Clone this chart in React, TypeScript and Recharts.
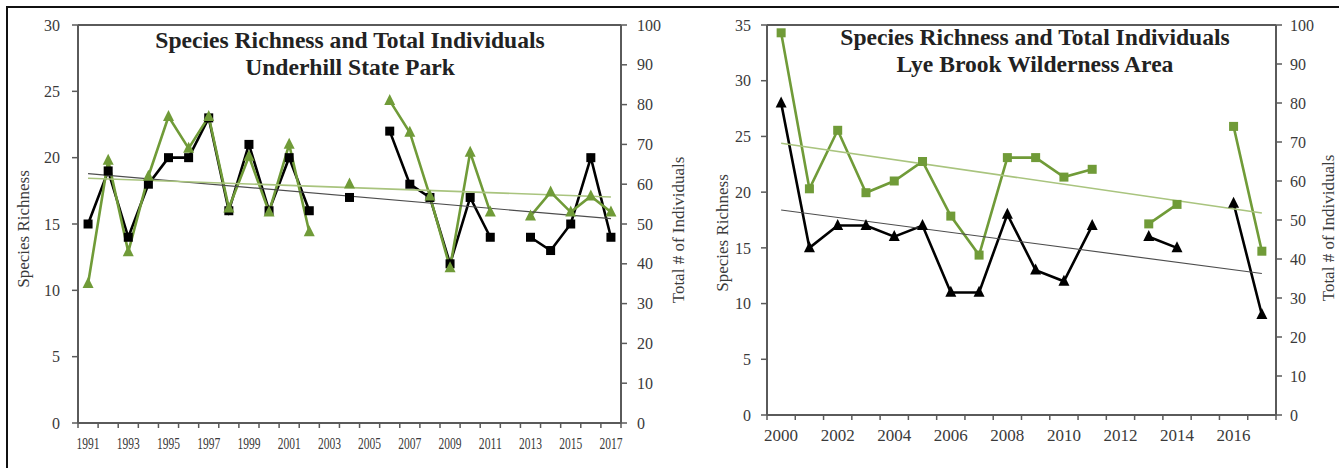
// Two dual-axis line charts: species richness (left axis) vs total individuals (right axis),
// each with a straight trend line, laid out side by side like the original report figure.
import { Line, LineChart, ReferenceLine, XAxis, YAxis } from 'recharts'

// --- Underhill State Park ---
const uhYears = [
  '1991', '1992', '1993', '1994', '1995', '1996', '1997', '1998', '1999', '2000',
  '2001', '2002', '2003', '2004', '2005', '2006', '2007', '2008', '2009', '2010',
  '2011', '2012', '2013', '2014', '2015', '2016', '2017',
]
const uhRichness = [15, 19, 14, 18, 20, 20, 23, 16, 21, 16, 20, 16, null, 17, null, 22, 18, 17, 12, 17, 14, null, 14, 13, 15, 20, 14]
const uhIndividuals = [35, 66, 43, 62, 77, 69, 77, 54, 67, 53, 70, 48, null, 60, null, 81, 73, 57, 39, 68, 53, null, 52, 58, 53, 57, 53]
// trend lines: only the two end points
const uhRichTrend = [18.8, null, null, null, null, null, null, null, null, null, null, null, null, null, null, null, null, null, null, null, null, null, null, null, null, null, 15.4]
const uhIndTrend = [61.5, null, null, null, null, null, null, null, null, null, null, null, null, null, null, null, null, null, null, null, null, null, null, null, null, null, 56.8]

// --- Lye Brook Wilderness Area ---
const lbYears = [
  '2000', '2001', '2002', '2003', '2004', '2005', '2006', '2007', '2008', '2009',
  '2010', '2011', '2012', '2013', '2014', '2015', '2016', '2017',
]
const lbRichness = [28, 15, 17, 17, 16, 17, 11, 11, 18, 13, 12, 17, null, 16, 15, null, 19, 9]
const lbIndividuals = [98, 58, 73, 57, 60, 65, 51, 41, 66, 66, 61, 63, null, 49, 54, null, 74, 42]
const lbRichTrend = [18.4, null, null, null, null, null, null, null, null, null, null, null, null, null, null, null, null, 12.7]
const lbIndTrend = [69.7, null, null, null, null, null, null, null, null, null, null, null, null, null, null, null, null, 51.8]

const uhLeftTicks = [0, 5, 10, 15, 20, 25, 30]
const lbLeftTicks = [0, 5, 10, 15, 20, 25, 30, 35]
const rightTicks = [0, 10, 20, 30, 40, 50, 60, 70, 80, 90, 100]

const FONT = '"Liberation Serif", "Times New Roman", serif'
const AXIS = '#5a5a5a'
const TXT = '#3a3a3a'
const GREEN = '#709b38'
const GREEN_TREND = '#a9c47e'
const BLACK = '#000000'
const BLACK_TREND = '#4d4d4d'

const uhData = uhYears.map((year, i) => ({
  year,
  rich: uhRichness[i],
  ind: uhIndividuals[i],
  richT: uhRichTrend[i],
  indT: uhIndTrend[i],
}))
const lbData = lbYears.map((year, i) => ({
  year,
  rich: lbRichness[i],
  ind: lbIndividuals[i],
  richT: lbRichTrend[i],
  indT: lbIndTrend[i],
}))

// markers
const squareDot = (color: string, s: number) => (p: any) =>
  p.cx == null || p.cy == null || p.value == null ? (
    <g key={`sq-${p.index}`} />
  ) : (
    <rect key={`sq-${p.index}`} x={p.cx - s / 2} y={p.cy - s / 2} width={s} height={s} fill={color} />
  )
const triDot = (color: string, s: number) => (p: any) =>
  p.cx == null || p.cy == null || p.value == null ? (
    <g key={`tr-${p.index}`} />
  ) : (
    <path
      key={`tr-${p.index}`}
      d={`M${p.cx},${p.cy - s * 0.6} L${p.cx + s / 2},${p.cy + s * 0.4} L${p.cx - s / 2},${p.cy + s * 0.4} Z`}
      fill={color}
    />
  )

/** year tick: Excel style, marks between categories, label on every other year */
function YearTick(props: any) {
  const { x, y, payload, index, band, count, squeeze } = props
  const lx = x - band / 2
  return (
    <g>
      <line x1={lx} y1={y} x2={lx} y2={y + 5} stroke={AXIS} strokeWidth={1.5} />
      {index === count - 1 && (
        <line x1={x + band / 2} y1={y} x2={x + band / 2} y2={y + 5} stroke={AXIS} strokeWidth={1.5} />
      )}
      {index % 2 === 0 && (
        <text
          x={x}
          y={y + 26}
          textAnchor="middle"
          fontSize={16}
          fontFamily={FONT}
          fill={TXT}
          textLength={squeeze}
          lengthAdjust="spacingAndGlyphs"
        >
          {payload.value}
        </text>
      )}
    </g>
  )
}

const axisTitle = (text: string, dx: number, dy: number) => (p: any) => {
  const vb = p.viewBox
  const cx = vb.x + dx
  const cy = vb.y + vb.height / 2 + dy
  return (
    <text
      x={cx}
      y={cy}
      transform={`rotate(-90, ${cx}, ${cy})`}
      textAnchor="middle"
      dominantBaseline="central"
      fontSize={17}
      fontFamily={FONT}
      fill={TXT}
    >
      {text}
    </text>
  )
}

const tickStyle = { fill: TXT, fontSize: 16, fontFamily: FONT }

function Title({ cx, top, lines }: { cx: number; top: number; lines: string[] }) {
  return (
    <div
      style={{
        position: 'absolute',
        left: cx - 300,
        top,
        width: 600,
        textAlign: 'center',
        fontFamily: FONT,
        fontWeight: 700,
        fontSize: 23.6,
        lineHeight: '27px',
        color: '#222',
        pointerEvents: 'none',
      }}
    >
      {lines.map((l) => (
        <div key={l}>{l}</div>
      ))}
    </div>
  )
}

export default function App() {
  return (
    <div
      style={{
        position: 'absolute',
        left: 0,
        top: 0,
        width: 1339,
        height: 468,
        background: '#fff',
        overflow: 'hidden',
      }}
    >
      {/* outer frame of the figure (top and left edges only are visible) */}
      <div
        style={{
          position: 'absolute',
          left: 6,
          top: 6,
          width: 1340,
          height: 470,
          borderTop: '2px solid #111',
          borderLeft: '2px solid #111',
        }}
      />

      {/* Underhill State Park */}
      <div style={{ position: 'absolute', left: 0, top: 0 }}>
        <LineChart width={691} height={468} data={uhData} margin={{ top: 25, right: 0, bottom: 15, left: 0 }}>
          <XAxis
            dataKey="year"
            scale="band"
            interval={0}
            height={30}
            tickLine={false}
            tickSize={0}
            tickMargin={0}
            axisLine={{ stroke: AXIS, strokeWidth: 2 }}
            tick={(p: any) => <YearTick {...p} band={543 / uhYears.length} count={uhYears.length} squeeze={23} />}
          />
          <YAxis
            yAxisId="l"
            orientation="left"
            width={78}
            domain={[0, 30]}
            ticks={uhLeftTicks}
            tick={tickStyle}
            tickSize={6}
            tickMargin={12}
            tickLine={{ stroke: AXIS, strokeWidth: 1.5 }}
            axisLine={{ stroke: AXIS, strokeWidth: 2 }}
            label={{ content: axisTitle('Species Richness', 23, 5) }}
          />
          <YAxis
            yAxisId="r"
            orientation="right"
            width={70}
            domain={[0, 100]}
            ticks={rightTicks}
            tick={tickStyle}
            tickSize={6}
            tickMargin={10}
            tickLine={{ stroke: AXIS, strokeWidth: 1.5 }}
            axisLine={{ stroke: AXIS, strokeWidth: 2 }}
            label={{ content: axisTitle('Total # of Individuals', 57, 6) }}
          />
          <ReferenceLine yAxisId="l" y={30} stroke={AXIS} strokeWidth={2} />

          <Line
            yAxisId="l"
            dataKey="rich"
            stroke={BLACK}
            strokeWidth={2.6}
            dot={squareDot(BLACK, 9)}
            activeDot={false}
            isAnimationActive={false}
          />
          <Line
            yAxisId="r"
            dataKey="ind"
            stroke={GREEN}
            strokeWidth={2.6}
            dot={triDot(GREEN, 11)}
            activeDot={false}
            isAnimationActive={false}
          />
          <Line
            yAxisId="l"
            dataKey="richT"
            stroke={BLACK_TREND}
            strokeWidth={1.2}
            dot={false}
            activeDot={false}
            connectNulls
            isAnimationActive={false}
          />
          <Line
            yAxisId="r"
            dataKey="indT"
            stroke={GREEN_TREND}
            strokeWidth={1.6}
            dot={false}
            activeDot={false}
            connectNulls
            isAnimationActive={false}
          />
        </LineChart>
      </div>

      {/* Lye Brook Wilderness Area */}
      <div style={{ position: 'absolute', left: 690, top: 0 }}>
        <LineChart width={649} height={468} data={lbData} margin={{ top: 25, right: 0, bottom: 23, left: 0 }}>
          <XAxis
            dataKey="year"
            scale="band"
            interval={0}
            height={30}
            tickLine={false}
            tickSize={0}
            tickMargin={0}
            axisLine={{ stroke: AXIS, strokeWidth: 2 }}
            tick={(p: any) => <YearTick {...p} band={509 / lbYears.length} count={lbYears.length} squeeze={34} />}
          />
          <YAxis
            yAxisId="l"
            orientation="left"
            width={77}
            domain={[0, 35]}
            ticks={lbLeftTicks}
            tick={tickStyle}
            tickSize={6}
            tickMargin={10}
            tickLine={{ stroke: AXIS, strokeWidth: 1.5 }}
            axisLine={{ stroke: AXIS, strokeWidth: 2 }}
            label={{ content: axisTitle('Species Richness', 32, 13) }}
          />
          <YAxis
            yAxisId="r"
            orientation="right"
            width={63}
            domain={[0, 100]}
            ticks={rightTicks}
            tick={tickStyle}
            tickSize={6}
            tickMargin={8}
            tickLine={{ stroke: AXIS, strokeWidth: 1.5 }}
            axisLine={{ stroke: AXIS, strokeWidth: 2 }}
            label={{ content: axisTitle('Total # of Individuals', 52, 8) }}
          />
          <ReferenceLine yAxisId="l" y={35} stroke={AXIS} strokeWidth={2} />

          <Line
            yAxisId="r"
            dataKey="ind"
            stroke={GREEN}
            strokeWidth={2.6}
            dot={squareDot(GREEN, 9)}
            activeDot={false}
            isAnimationActive={false}
          />
          <Line
            yAxisId="l"
            dataKey="rich"
            stroke={BLACK}
            strokeWidth={2.6}
            dot={triDot(BLACK, 11)}
            activeDot={false}
            isAnimationActive={false}
          />
          <Line
            yAxisId="l"
            dataKey="richT"
            stroke={BLACK_TREND}
            strokeWidth={1.2}
            dot={false}
            activeDot={false}
            connectNulls
            isAnimationActive={false}
          />
          <Line
            yAxisId="r"
            dataKey="indT"
            stroke={GREEN_TREND}
            strokeWidth={1.6}
            dot={false}
            activeDot={false}
            connectNulls
            isAnimationActive={false}
          />
        </LineChart>
      </div>

      <Title cx={350} top={27} lines={['Species Richness and Total Individuals', 'Underhill State Park']} />
      <Title cx={1035} top={24} lines={['Species Richness and Total Individuals', 'Lye Brook Wilderness Area']} />
    </div>
  )
}
